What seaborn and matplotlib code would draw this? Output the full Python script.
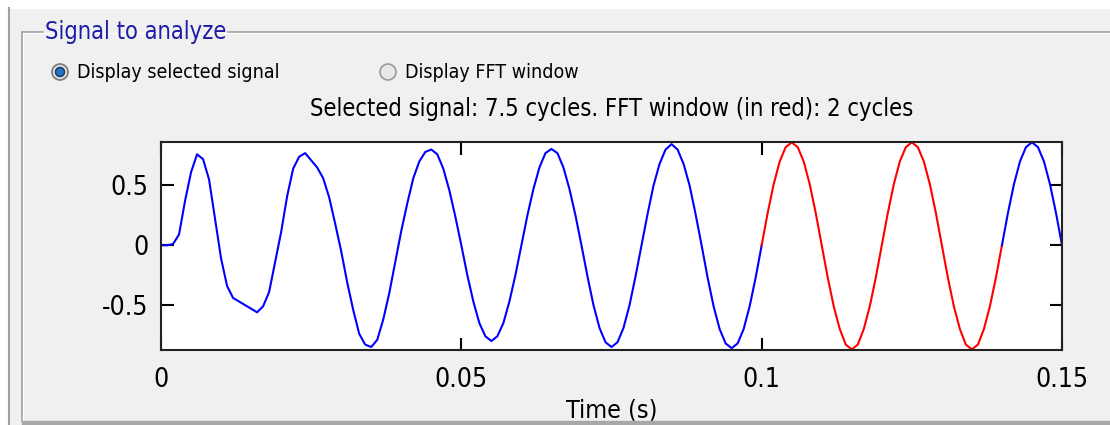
import numpy as np
import pandas as pd
import matplotlib
matplotlib.use('Agg')
import matplotlib.pyplot as plt
import seaborn as sns
from matplotlib import font_manager
from matplotlib.patches import Circle, Rectangle
from matplotlib.lines import Line2D
from matplotlib.transforms import IdentityTransform

# signal, one sample per millisecond (0 .. 150 ms)
sample_step = 0.001
signal = [
    0.00, 0.00, 0.01, 0.09, 0.37, 0.61, 0.76, 0.72, 0.55, 0.22,
    -0.11, -0.34, -0.44, -0.47, -0.50, -0.53, -0.56, -0.51, -0.39, -0.14,
    0.11, 0.41, 0.64, 0.74, 0.77, 0.71, 0.65, 0.56, 0.40, 0.18,
    -0.05, -0.31, -0.54, -0.74, -0.83, -0.85, -0.79, -0.62, -0.40, -0.14,
    0.12, 0.35, 0.56, 0.70, 0.78, 0.80, 0.76, 0.64, 0.46, 0.24,
    0.00, -0.25, -0.47, -0.65, -0.76, -0.80, -0.76, -0.65, -0.47, -0.25,
    0.00, 0.25, 0.47, 0.65, 0.77, 0.805, 0.77, 0.65, 0.47, 0.25,
    0.00, -0.26, -0.50, -0.69, -0.81, -0.85, -0.81, -0.69, -0.50, -0.26,
    0.00, 0.26, 0.50, 0.68, 0.80, 0.845, 0.80, 0.68, 0.50, 0.26,
    0.00, -0.27, -0.51, -0.70, -0.82, -0.86, -0.82, -0.70, -0.51, -0.27,
    0.00, 0.27, 0.51, 0.70, 0.82, 0.86, 0.82, 0.70, 0.51, 0.27,
    0.00, -0.27, -0.51, -0.70, -0.83, -0.87, -0.83, -0.70, -0.51, -0.27,
    0.00, 0.27, 0.51, 0.70, 0.82, 0.86, 0.82, 0.70, 0.51, 0.27,
    0.00, -0.27, -0.51, -0.70, -0.83, -0.87, -0.83, -0.70, -0.51, -0.27,
    0.00, 0.27, 0.51, 0.70, 0.82, 0.86, 0.82, 0.70, 0.51, 0.27, 0.00,
]
fft_start, fft_end = 0.10, 0.14
xticks = [0, 0.05, 0.1, 0.15]
xtick_labels = ['0', '0.05', '0.1', '0.15']
yticks = [-0.5, 0, 0.5]
ytick_labels = ['-0.5', '0', '0.5']
title = 'Selected signal: 7.5 cycles. FFT window (in red): 2 cycles'

df = pd.DataFrame({'t': np.round(np.arange(len(signal)) * sample_step, 4), 'v': signal})

# narrow font to mimic the squeezed MATLAB screenshot
names = {f.name for f in font_manager.fontManager.ttflist}
stretch = 'normal'
if 'Liberation Sans Narrow' in names:
    fam = 'Liberation Sans Narrow'
else:
    fam = 'Liberation Sans'
    for f in font_manager.fontManager.ttflist:
        if f.name == 'DejaVu Sans' and f.stretch == 'condensed':
            fam, stretch = 'DejaVu Sans', 'condensed'
            break
plt.rcParams['font.family'] = [fam, 'DejaVu Sans']
plt.rcParams['font.stretch'] = stretch

W, H = 1110, 425
fig = plt.figure(figsize=(W / 100, H / 100), dpi=100, facecolor='#f0f0f0')

def fx(x):
    return x / W

def fy(y):
    return 1 - y / H

ax = fig.add_axes([fx(161), fy(350), fx(1062) - fx(161), fy(142) - fy(350)])
ax.set_facecolor('white')

blue1 = df[df['t'] <= fft_start]
red = df[(df['t'] >= fft_start) & (df['t'] <= fft_end)]
blue2 = df[df['t'] >= fft_end]
for part, col in [(blue1, 'blue'), (red, 'red'), (blue2, 'blue')]:
    sns.lineplot(data=part, x='t', y='v', color=col, lw=1.5, estimator=None, ax=ax)

ax.set_xlim(0, 0.15)
ax.set_ylim(-0.875, 0.863)
ax.set_xticks(xticks, xtick_labels)
ax.set_yticks(yticks, ytick_labels)
ax.tick_params(direction='in', length=9, width=1.5, top=True, right=True,
               labelsize=19, colors='black')
ax.tick_params(axis='x', pad=12)
ax.tick_params(axis='y', pad=9)
for s in ax.spines.values():
    s.set_linewidth(1.5)
    s.set_color('#222222')
ax.set_ylabel('')
ax.set_xlabel('Time (s)', fontsize=18, labelpad=4)
ax.set_title(title, fontsize=17, pad=19)

# panel decorations
fig.add_artist(Rectangle((0, fy(8)), 1, 1 - fy(8), transform=fig.transFigure,
                         color='white', zorder=0))
fig.add_artist(Rectangle((0, 0), fx(8), 1, transform=fig.transFigure,
                         color='white', zorder=0))
fig.add_artist(Line2D([fx(9), fx(9)], [0, fy(8)], color='#a0a0a0', lw=1.5))

gb = '#a0a0a0'
fig.add_artist(Line2D([fx(22), fx(43)], [fy(32), fy(32)], color=gb, lw=1.2))
fig.add_artist(Line2D([fx(228), 1], [fy(32), fy(32)], color=gb, lw=1.2))
fig.add_artist(Line2D([fx(22), 1], [fy(33), fy(33)], color='white', lw=0.8))
fig.add_artist(Line2D([fx(22), fx(22)], [fy(32), fy(421)], color=gb, lw=1.2))
fig.add_artist(Line2D([fx(23), fx(23)], [fy(33), fy(421)], color='white', lw=0.8))
fig.add_artist(Rectangle((fx(22), 0), 1, fy(421), transform=fig.transFigure,
                         color='#a8a8a8', zorder=10))
fig.text(fx(45), fy(32), 'Signal to analyze', color='#1c1ca8', fontsize=17,
         va='center', ha='left')

# radio buttons
it = IdentityTransform()
fig.add_artist(Circle((60, H - 72), 8, transform=it, facecolor='#dcdcdc',
                      edgecolor='#7a7a7a', lw=1.2, zorder=5))
fig.add_artist(Circle((60, H - 72), 4.5, transform=it, facecolor='#1f78c0',
                      edgecolor='#123a66', lw=1, zorder=6))
fig.add_artist(Circle((388, H - 72), 8, transform=it, facecolor='#e8e8e8',
                      edgecolor='#9a9a9a', lw=1.2, zorder=5))
fig.text(fx(77), fy(72), 'Display selected signal', fontsize=14, va='center', ha='left')
fig.text(fx(405), fy(72), 'Display FFT window', fontsize=14, va='center', ha='left')

fig.savefig('out.png', dpi=100, facecolor=fig.get_facecolor())
